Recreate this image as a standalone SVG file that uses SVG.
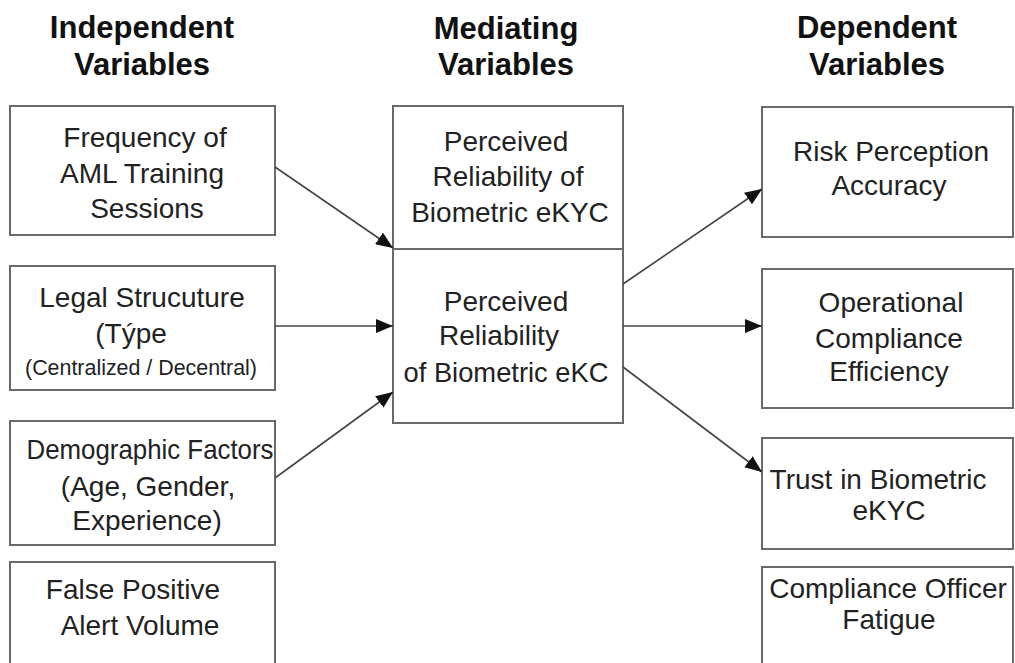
<svg xmlns="http://www.w3.org/2000/svg" width="1015" height="663" viewBox="0 0 1015 663">
<style>
.box{fill:#fff;stroke:#6a6a6a;stroke-width:2}
.t{font-family:"Liberation Sans",Arial,sans-serif;font-size:28px;fill:#222;text-anchor:middle}
.s{font-size:22px}
.h{font-family:"Liberation Sans",Arial,sans-serif;font-size:31px;font-weight:bold;fill:#111;text-anchor:middle}
.c{stroke:#444;stroke-width:1.6;fill:none;marker-end:url(#ah)}
</style>
<defs>
<marker id="ah" markerUnits="userSpaceOnUse" markerWidth="18" markerHeight="14" refX="17" refY="7" orient="auto">
<path d="M0,0 L17,7 L0,14 z" fill="#111"/>
</marker>
</defs>
<rect width="1015" height="663" fill="#fff"/>
<g id="headers">
<text class="h" x="142" y="38">Independent</text>
<text class="h" x="142" y="75">Variables</text>
<text class="h" x="506" y="39">Mediating</text>
<text class="h" x="506" y="75">Variables</text>
<text class="h" x="877" y="38">Dependent</text>
<text class="h" x="877" y="75">Variables</text>
</g>
<g id="iv1">
<rect class="box" x="10" y="106" width="265" height="129"/>
<text class="t" x="145" y="147">Frequency of</text>
<text class="t" x="142" y="183">AML Training</text>
<text class="t" x="147" y="218">Sessions</text>
</g>
<g id="iv2">
<rect class="box" x="10" y="266" width="265" height="124"/>
<text class="t" x="142" y="307">Legal Strucuture</text>
<text class="t" x="131" y="343">(Týpe</text>
<text class="t s" x="141" y="375" textLength="232" lengthAdjust="spacingAndGlyphs">(Centralized / Decentral)</text>
</g>
<g id="iv3">
<rect class="box" x="10" y="421" width="265" height="124"/>
<text class="t" x="150" y="459" textLength="247" lengthAdjust="spacingAndGlyphs">Demographic Factors</text>
<text class="t" x="148" y="496">(Age, Gender,</text>
<text class="t" x="147" y="530">Experience)</text>
</g>
<g id="iv4">
<rect class="box" x="10" y="562" width="265" height="120"/>
<text class="t" x="133" y="599">False Positive</text>
<text class="t" x="140" y="635">Alert Volume</text>
</g>
<g id="mv1">
<rect class="box" x="393" y="106" width="230" height="143"/>
<text class="t" x="506" y="151">Perceived</text>
<text class="t" x="508" y="186">Reliability of</text>
<text class="t" x="510" y="222">Biometric eKYC</text>
</g>
<g id="mv2">
<rect class="box" x="393" y="249" width="230" height="174"/>
<text class="t" x="506" y="311">Perceived</text>
<text class="t" x="499" y="345">Reliability</text>
<text class="t" x="506" y="382" textLength="205" lengthAdjust="spacingAndGlyphs">of Biometric eKC</text>
</g>
<g id="dv1">
<rect class="box" x="762" y="107" width="251" height="130"/>
<text class="t" x="891" y="161">Risk Perception</text>
<text class="t" x="889" y="195">Accuracy</text>
</g>
<g id="dv2">
<rect class="box" x="762" y="269" width="251" height="139"/>
<text class="t" x="891" y="312">Operational</text>
<text class="t" x="889" y="348">Compliance</text>
<text class="t" x="889" y="381">Efficiency</text>
</g>
<g id="dv3">
<rect class="box" x="762" y="438" width="251" height="111"/>
<text class="t" x="878" y="489">Trust in Biometric</text>
<text class="t" x="889" y="520">eKYC</text>
</g>
<g id="dv4">
<rect class="box" x="762" y="567" width="251" height="120"/>
<text class="t" x="888" y="598">Compliance Officer</text>
<text class="t" x="889" y="629">Fatigue</text>
</g>
<g id="connectors">
<line class="c" x1="275" y1="167" x2="393" y2="248"/>
<line class="c" x1="275" y1="326" x2="393" y2="326"/>
<line class="c" x1="275" y1="478" x2="393" y2="392"/>
<line class="c" x1="623" y1="284" x2="762" y2="189"/>
<line class="c" x1="623" y1="326" x2="762" y2="326"/>
<line class="c" x1="623" y1="367" x2="762" y2="472"/>
</g>
</svg>
